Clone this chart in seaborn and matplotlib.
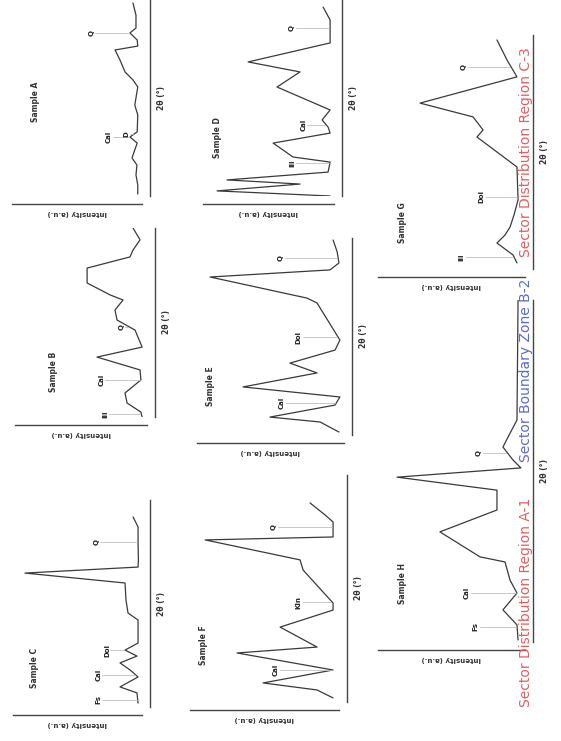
import numpy as np
import pandas as pd
import seaborn as sns
import matplotlib.pyplot as plt

# ---- data: position along the pattern (0-100) and intensity (0-100) ----
p1_pos = [98.5, 92.3, 85.7, 83.2, 79.6, 76.5, 74.5, 69.4, 63.3, 59.2, 55.6, 46.4, 41.3,
          32.7, 30.1, 27.0, 23.5, 19.4, 15.8, 10.7, 5.6, 1.0]
p1_int = [4.5, 2, 2, 7, 1, 0.5, 19.4, 15.3, 11.1, 4.5, 0.5, 3, 0.5,
          1, 7, 1, 3, 5.3, 1.2, 2, 0.5, 0.5]
p2_pos = [100, 93.7, 88.4, 84.7, 78.8, 70.9, 64.6, 61.9, 56.6, 51.3, 46.0, 37.0, 31.7,
          24.9, 19.6, 12.7, 7.4, 2.6, 0]
p2_int = [8.4, 2.7, 8.4, 10.9, 46, 46, 27.2, 16.6, 23.2, 21.5, 6.8, 1, 37.9,
          2.7, 2, 15, 13.3, 2, 1]
p3_pos = [91.8, 87.0, 79.2, 71.0, 67.6, 64.7, 59.9, 51.7, 45.4, 42.0, 30.9, 27.5, 24.6,
          21.3, 17.9, 14.5, 9.7, 6.8, 1.9]
p3_int = [4.5, 0.3, 0.3, 0, 0.3, 95, 11.2, 10.4, 8.7, 0.3, 0.3, 11.2, 1.2,
          15.4, 7, 0.3, 15.4, 1.2, 0.3]
p4_pos = [96.4, 89.8, 78.1, 68.4, 63.3, 55.6, 43.9, 38.8, 35.2, 32.1, 27.0, 19.9, 17.3,
          12.2, 8.2, 6.1, 2.6, 0]
p4_int = [6, 0.2, 0.2, 67.8, 25, 44, 0.2, 6.8, 1.9, 0.2, 47.2, 30.8, 0.2,
          1.9, 85.2, 25, 93.4, 0.2]
p5_pos = [99, 92.9, 87.3, 83.8, 80.2, 69.5, 67.0, 48.2, 43.1, 36.5, 31.5, 24.4, 19.3,
          15.2, 9.1, 6.6, 1.5]
p5_int = [5, 2, 0.7, 7.3, 95.4, 24.2, 16.8, 0, 3.6, 36.7, 16.8, 71.2, 0,
          3.6, 51.4, 14.6, 0.7]
p6_pos = [87.7, 82.4, 79.3, 72.7, 71.4, 62.6, 58.1, 43.6, 40.5, 33.0, 24.2, 21.6, 14.1,
          8.4, 5.3, 1.8]
p6_int = [18, 7.1, 1.3, 1.3, 94, 25.2, 23, 1.3, 1.3, 39.7, 12.9, 70.9, 1.3,
          52, 12.9, 1.3]
p7_pos = [97.9, 89.3, 82.1, 70.9, 65.0, 59.4, 56.4, 43.6, 29.5, 23.1, 17.9, 14.5, 11.1,
          6.0, 2.6]
p7_int = [17.6, 10.2, 2.9, 74.1, 35.2, 27.8, 32.3, 2.9, 2.1, 5.1, 8, 11.7, 17.6,
          5.8, 2.9]
p8_pos = [100, 64.9, 59.9, 57.0, 53.2, 50.9, 48.2, 44.4, 38.6, 32.2, 24.9, 23.4, 18.1,
          14.3, 9.4, 5.0, 0.6]
p8_int = [2.1, 2.9, 9.5, 13.2, 5.8, 0, 91, 17.6, 17.6, 59.5, 30.1, 11.7, 8,
          2.9, 13.2, 2.9, 2.1]

# peak labels: position, label height, text
p1_ann = ([83.2, 30.1, 31.5], [37.7, 23.5, 8.6], ["Q", "Cal", "D"])
p2_ann = ([47.6, 19.6, 1.5], [16.6, 33.0, 29.7], ["Q", "Cal", "Ill"])
p3_ann = ([79.7, 27.5, 15.5, 3.4], [33.8, 25.4, 32.2, 32.2], ["Q", "Dol", "Cal", "Fs"])
p4_ann = ([85.7, 36.2, 16.8], [30.6, 20.9, 30.6], ["Q", "Cal", "Ill"])
p5_ann = ([89.8, 49.7, 16.2], [42.6, 29.3, 41.8], ["Q", "Dol", "Cal"])
p6_ann = ([77.1, 44.0, 14.1], [43.3, 25.2, 41.9], ["Q", "Kln", "Cal"])
p7_ann = ([86.3, 30.8, 5.1], [41.1, 27.8, 42.5], ["Q", "Dol", "Ill"])
p8_ann = ([55.3, 14.3, 4.4], [30.0, 38.9, 32.3], ["Q", "Cal", "Fs"])

titles = ["Sample A", "Sample B", "Sample C", "Sample D",
          "Sample E", "Sample F", "Sample G", "Sample H"]
band_texts = ["Sector Distribution Region A-1", "Sector Boundary Zone B-2",
              "Sector Distribution Region C-3"]
band_colors = ["#e06060", "#5a6ccc", "#e06060"]

W, H = 561, 741
# axes boxes in pixels (x0, x1, y0, y1) of the rotated layout
boxes = [(12, 142, 0, 196), (15, 147, 228, 417), (13, 142, 500, 707),
         (203, 334, 0, 196), (197, 344, 238, 435), (190, 339, 475, 702),
         (378, 525, 35, 269), (378, 525, 300, 642)]
title_xy = [(0.18, 0.48), (0.29, 0.24), (0.17, 0.19), (0.11, 0.30),
            (0.09, 0.25), (0.09, 0.25), (0.17, 0.20), (0.17, 0.17)]
band_y = [0.187, 0.50, 0.795]

panels = [(p1_pos, p1_int, p1_ann), (p2_pos, p2_int, p2_ann), (p3_pos, p3_int, p3_ann),
          (p4_pos, p4_int, p4_ann), (p5_pos, p5_int, p5_ann), (p6_pos, p6_int, p6_ann),
          (p7_pos, p7_int, p7_ann), (p8_pos, p8_int, p8_ann)]

sns.set_style("white")
plt.rcParams['font.family'] = ['DejaVu Sans']
fig = plt.figure(figsize=(W / 100, H / 100), dpi=100)

for i, (pos, inten, ann) in enumerate(panels):
    x0, x1, y0, y1 = boxes[i]
    ax = fig.add_axes([x0 / W, 1 - y1 / H, (x1 - x0) / W, (y1 - y0) / H])
    df = pd.DataFrame({"position": pos, "intensity": inten})
    sns.lineplot(data=df, x="intensity", y="position", orient="y", ax=ax,
                 color="#3a3a3a", linewidth=0.9)
    ax.set_xlim(105, -3)
    ax.set_ylim(0, 100)

    # peak labels with thin leader lines
    order = np.argsort(pos)
    sp = np.array(pos)[order]
    si = np.array(inten)[order]
    for p, h, t in zip(*ann):
        c = np.interp(p, sp, si)
        ax.plot([c + 1, h - 2], [p, p], color="0.75", lw=0.6)
        ax.text(h + 1, p, t, rotation=90, ha="center", va="center",
                fontsize=5, fontweight="bold", color="#222222")

    ax.text(title_xy[i][0], title_xy[i][1], titles[i], transform=ax.transAxes,
            rotation=90, ha="center", va="center", fontsize=5.5, fontweight="bold",
            color="#333333")

    for s in ["left", "top"]:
        ax.spines[s].set_visible(False)
    for s in ["right", "bottom"]:
        ax.spines[s].set_position(("outward", 5.8))
        ax.spines[s].set_color("#444444")
        ax.spines[s].set_linewidth(1.0)
    ax.set_xticks([])
    ax.set_yticks([])
    ax.set_xlabel("Intensity (a.u.)", rotation=180, fontsize=5, labelpad=4,
                  fontweight="bold", color="#333333")
    ax.yaxis.set_label_position("right")
    ax.set_ylabel("2θ (°)", rotation=90, fontsize=5.5, labelpad=5,
                  fontweight="bold", color="#333333")

for t, c, y in zip(band_texts, band_colors, band_y):
    fig.text(526 / W, y, t, rotation=90, ha="center", va="center",
             fontsize=10, color=c)

fig.savefig("out.png", dpi=100)
